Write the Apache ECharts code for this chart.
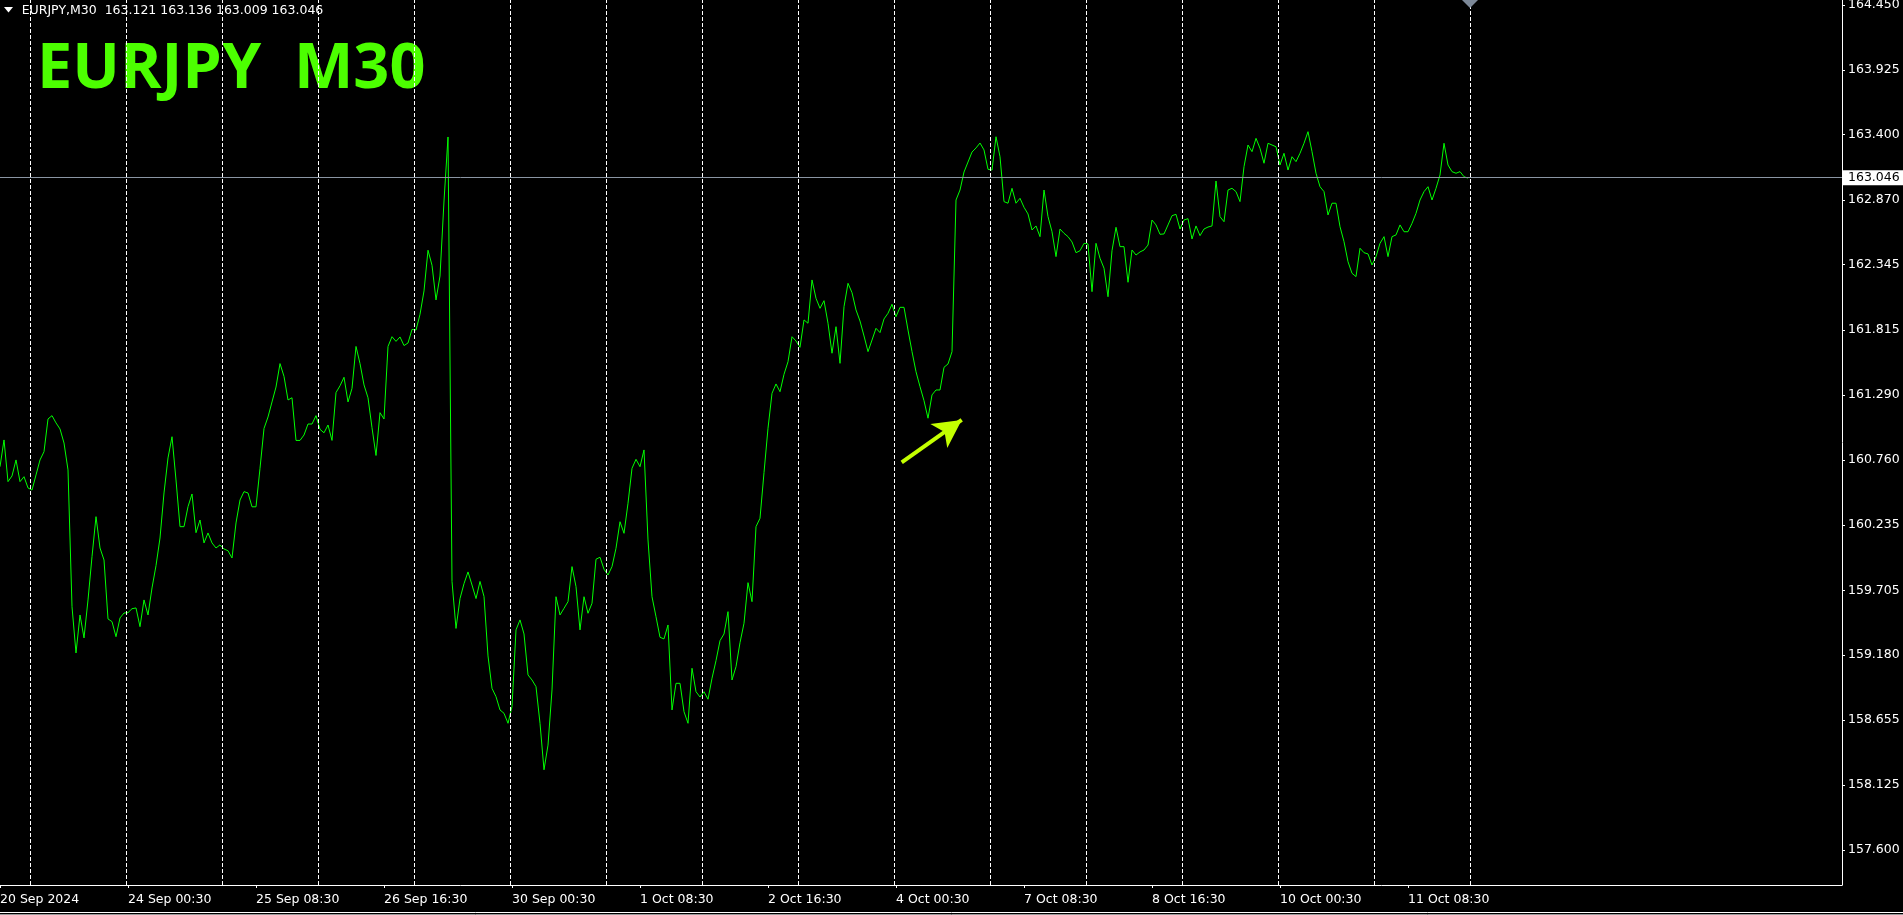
<!DOCTYPE html>
<html>
<head>
<meta charset="utf-8">
<script src="https://cdn.jsdelivr.net/npm/echarts@6/dist/echarts.min.js"></script>
<style>
html,body{margin:0;padding:0;background:#000;}
#chart{width:1903px;height:915px;}
</style>
</head>
<body>
<div id="chart"></div>
<script>
// ---------- DATA ----------
const symbolName = 'EURJPY,M30';
const ohlcText = ['163.121', '163.136', '163.009', '163.046'];
const titleText = 'EURJPY  M30';
const lastPrice = 163.046;

// one value per hour (every 2nd M30 bar), starting 20 Sep 16:30
const BAR_STEP = 2;
const hourlyClose = [
  // 20 Sep - 24 Sep
  160.707, 160.924, 160.586, 160.632, 160.762, 160.586, 160.626, 160.535, 160.518, 160.640,
  160.762, 160.829, 161.094, 161.121, 161.062, 161.013, 160.899, 160.681, 159.572, 159.197,
  159.505, 159.319, 159.627, 159.978, 160.302, 160.048, 159.951, 159.473, 159.451, 159.329,
  159.481, 159.521, 159.524, 159.556, 159.562, 159.410, 159.627, 159.505, 159.724, 159.905,
  160.129, 160.494, 160.778, 160.950, 160.599, 160.221, 160.221, 160.383, 160.486, 160.172,
  160.275, 160.089, 160.170, 160.089, 160.048, 160.073, 160.040, 160.026, 159.967, 160.251,
  160.437, 160.505, 160.494,
  // 25 Sep - 27 Sep
  160.382, 160.382, 160.694, 161.017, 161.110, 161.232, 161.353, 161.543, 161.439, 161.248,
  161.266, 160.920, 160.920, 160.964, 161.053, 161.053, 161.121, 161.010, 160.982, 161.045,
  160.920, 161.308, 161.363, 161.432, 161.232, 161.342, 161.682, 161.543, 161.370, 161.266,
  161.023, 160.798, 161.145, 161.094, 161.682, 161.761, 161.723, 161.759, 161.689, 161.710,
  161.820, 161.815, 161.942, 162.132, 162.462, 162.340, 162.059, 162.253, 162.861, 163.380,
  159.777, 159.396, 159.638, 159.759, 159.854, 159.748, 159.638, 159.777, 159.655, 159.173,
  158.910,
  // 27 Sep - 2 Oct
  158.843, 158.735, 158.708, 158.627, 158.762, 159.384, 159.465, 159.351, 159.019, 158.978,
  158.924, 158.627, 158.250, 158.450, 158.897, 159.653, 159.505, 159.559, 159.613, 159.897,
  159.735, 159.384, 159.653, 159.519, 159.600, 159.957, 159.973, 159.876, 159.829, 159.897,
  160.046, 160.261, 160.167, 160.411, 160.694, 160.767, 160.707, 160.843, 160.113, 159.653,
  159.491, 159.324, 159.311, 159.424, 158.735, 158.951, 158.951, 158.721, 158.627, 159.073,
  158.883, 158.840, 158.883, 158.822, 158.992, 159.135, 159.297, 159.351, 159.532, 158.978,
  159.086,
  // 2 Oct - 4 Oct
  159.281, 159.438, 159.767, 159.613, 160.221, 160.289, 160.659, 161.019, 161.302, 161.378,
  161.315, 161.456, 161.558, 161.761, 161.726, 161.675, 161.897, 161.870, 162.221, 162.072,
  161.991, 162.053, 161.870, 161.627, 161.842, 161.545, 162.004, 162.194, 162.118, 161.978,
  161.888, 161.767, 161.640, 161.734, 161.829, 161.794, 161.905, 161.951, 162.024, 161.923,
  161.999, 161.999, 161.815, 161.640, 161.477, 161.356, 161.242, 161.100, 161.289, 161.329,
  161.329, 161.513, 161.540, 161.640, 162.869, 162.950, 163.096, 163.177, 163.258, 163.291,
  // 4 Oct - 9 Oct
  163.331, 163.275, 163.118, 163.112, 163.382, 163.220, 162.856, 162.843, 162.964, 162.843,
  162.883, 162.810, 162.756, 162.626, 162.659, 162.572, 162.950, 162.734, 162.612, 162.410,
  162.634, 162.599, 162.572, 162.529, 162.442, 162.458, 162.518, 162.513, 162.126, 162.518,
  162.397, 162.316, 162.085, 162.458, 162.648, 162.491, 162.491, 162.202, 162.464, 162.423,
  162.448, 162.464, 162.504, 162.707, 162.667, 162.591, 162.594, 162.667, 162.742, 162.753,
  162.634, 162.707, 162.718, 162.553, 162.659, 162.580, 162.634, 162.650, 162.659, 163.023,
  162.734, 162.693,
  // 9 Oct - 11 Oct
  162.950, 162.964, 162.937, 162.856, 163.139, 163.315, 163.261, 163.369, 163.288, 163.167,
  163.329, 163.315, 163.301, 163.153, 163.248, 163.112, 163.220, 163.180, 163.248, 163.329,
  163.423, 163.261, 163.086, 162.977, 162.937, 162.748, 162.843, 162.843, 162.653, 162.531,
  162.369, 162.275, 162.248, 162.478, 162.442, 162.432, 162.342, 162.410, 162.518, 162.572,
  162.410, 162.572, 162.586, 162.667, 162.612, 162.612, 162.680, 162.761, 162.869, 162.937,
  162.977, 162.869, 162.964, 163.072, 163.329, 163.153, 163.099, 163.086, 163.099, 163.058,
  163.046
];

// time axis (in M30 bar numbers)
const timeLabelBars = [0, 64, 128, 192, 256, 320, 384, 448, 512, 576, 640, 704];
const timeLabels = ['20 Sep 2024', '24 Sep 00:30', '25 Sep 08:30', '26 Sep 16:30', '30 Sep 00:30',
  '1 Oct 08:30', '2 Oct 16:30', '4 Oct 00:30', '7 Oct 08:30', '8 Oct 16:30', '10 Oct 00:30', '11 Oct 08:30'];
const daySeparatorBars = [15, 63, 111, 159, 207, 255, 303, 351, 399, 447, 495, 543, 591, 639, 687, 735];
const barAxisMax = 921;

// price axis
const priceTicks = [157.600, 158.125, 158.655, 159.180, 159.705, 160.235, 160.760,
  161.290, 161.815, 162.345, 162.870, 163.400, 163.925, 164.450];
const priceMin = 157.316;
const priceMax = 164.4905;

// annotation arrow (bar, price)
const arrowFrom = [450.85, 160.743];
const arrowTo = [480.85, 161.086];
const shiftMarkerBar = 735;

// ---------- CHART ----------
const chart = echarts.init(document.getElementById('chart'), null, {renderer: 'canvas'});
const FONT = 'DejaVu Sans';

const option = {
  backgroundColor: '#000',
  animation: false,
  tooltip: {show: false},
  grid: {left: 0, right: 61, top: 0, bottom: 30, containLabel: false, outerBoundsMode: 'none'},
  xAxis: {
    type: 'value',
    min: 0,
    max: barAxisMax,
    axisLine: {show: true, onZero: false, lineStyle: {color: '#fff', width: 1}},
    axisTick: {show: true, customValues: timeLabelBars, length: 3, lineStyle: {color: '#fff'}},
    splitLine: {show: false},
    axisLabel: {
      customValues: timeLabelBars,
      formatter: (v) => timeLabels[timeLabelBars.indexOf(v)] || '',
      color: '#fff', fontFamily: FONT, fontSize: 12.5, align: 'left', margin: 8
    }
  },
  yAxis: {
    type: 'value',
    position: 'right',
    min: priceMin,
    max: priceMax,
    axisLine: {show: true, onZero: false, lineStyle: {color: '#fff', width: 1}},
    axisTick: {show: true, customValues: priceTicks, length: 3, lineStyle: {color: '#fff'}},
    splitLine: {show: false},
    axisLabel: {
      customValues: priceTicks,
      formatter: (v) => v.toFixed(3),
      color: '#fff', fontFamily: FONT, fontSize: 12.5, margin: 6, align: 'left'
    }
  },
  series: [
    {
      type: 'line',
      data: hourlyClose.map((p, i) => [i * BAR_STEP, p]),
      showSymbol: false,
      symbol: 'none',
      clip: false,
      silent: true,
      lineStyle: {color: '#00ff00', width: 1},
      markLine: {
        silent: true,
        symbol: 'none',
        animation: false,
        label: {show: false},
        data: daySeparatorBars.map(b => ({
          xAxis: b,
          lineStyle: {color: '#ffffff', type: [4, 2], width: 1}
        }))
      }
    },
    {
      type: 'line',
      data: [],
      clip: false,
      silent: true,
      markLine: {
        silent: true,
        symbol: 'none',
        animation: false,
        data: [
          {
            yAxis: lastPrice,
            lineStyle: {color: '#8a95a3', type: 'solid', width: 1},
            label: {
              show: true, position: 'end', distance: 1,
              formatter: lastPrice.toFixed(3),
              color: '#000', backgroundColor: '#fff',
              fontFamily: FONT, fontSize: 12.5,
              padding: [1, 4, 1, 5]
            }
          }
        ]
      }
    },
    {
      type: 'line',
      data: [],
      clip: false,
      silent: true,
      markLine: {
        silent: true,
        animation: false,
        symbol: ['none', 'arrow'],
        symbolSize: [22, 28],
        label: {show: false},
        lineStyle: {color: '#c4ff00', width: 4, type: 'solid', cap: 'butt'},
        data: [[{coord: arrowFrom}, {coord: arrowTo}]]
      },
      markPoint: {
        silent: true,
        animation: false,
        symbol: 'triangle',
        symbolRotate: 180,
        symbolSize: [16, 8],
        symbolOffset: [0, 4],
        label: {show: false},
        itemStyle: {color: '#7c8898'},
        data: [{coord: [shiftMarkerBar, priceMax]}]
      }
    }
  ],
  graphic: [
    {type: 'polygon', silent: true, shape: {points: [[4, 7], [13, 7], [8.5, 12.5]]}, style: {fill: '#fff'}},
    {type: 'text', silent: true, x: 21.7, y: 11,
      style: {text: symbolName + '  ' + ohlcText.join(' '), fill: '#fff', fontFamily: FONT, fontSize: 12.5,
        verticalAlign: 'middle', align: 'left'}},
    {type: 'text', silent: true, x: 37, y: 70,
      style: {text: titleText, fill: '#4cff00', fontFamily: 'Open Sans', fontWeight: 'bold', fontSize: 63,
        verticalAlign: 'middle', align: 'left'}},
    {type: 'line', silent: true, shape: {x1: 0, y1: 912.5, x2: 1903, y2: 912.5}, style: {stroke: '#fff', lineWidth: 1}},
    {type: 'line', silent: true, shape: {x1: 0, y1: 914.5, x2: 1903, y2: 914.5}, style: {stroke: '#9a9a9a', lineWidth: 1}}
  ]
};
chart.setOption(option);
</script>
</body>
</html>
